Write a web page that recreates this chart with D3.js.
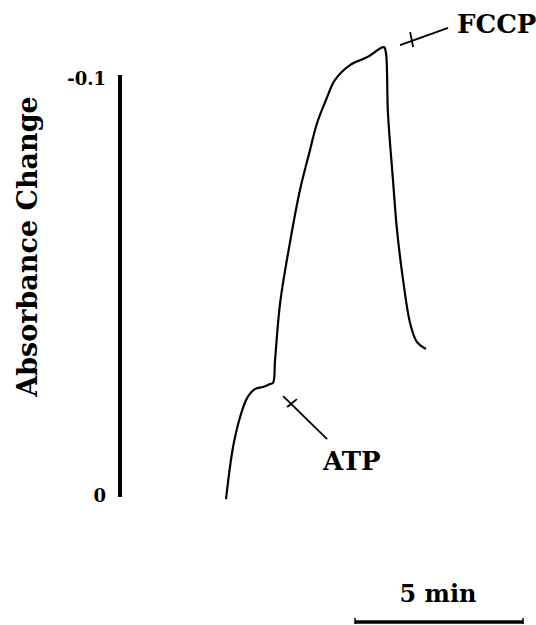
<!DOCTYPE html>
<html>
<head>
<meta charset="utf-8">
<script src="https://cdn.jsdelivr.net/npm/d3@7"></script>
<style>
  body { margin: 0; background: #fff; }
  svg text { font-family: "DejaVu Serif", serif; font-weight: bold; fill: #000; }
</style>
</head>
<body>
<div id="chart"></div>
<script>
// trace: time (min) and absorbance change
const times = [0, 0.21, 0.42, 0.63, 0.86, 1.10, 1.31, 1.40, 1.46, 1.61, 1.90, 2.20, 2.50, 2.71, 3.01, 3.24, 3.69, 4.20, 4.70, 4.76, 4.82, 4.97, 5.09, 5.27, 5.48, 5.68, 5.95];
const absorb = [0.001, -0.0115, -0.0187, -0.0233, -0.0254, -0.0259, -0.0266, -0.0269, -0.0324, -0.046, -0.0604, -0.0731, -0.0827, -0.0892, -0.0954, -0.0995, -0.1031, -0.105, -0.1074, -0.106, -0.0916, -0.0755, -0.0635, -0.0516, -0.0412, -0.0367, -0.035];

const yTicks = [0, -0.1];
const yTickLabels = ['0', '-0.1'];

// additions: pointer line [t, A] pairs and the tick mark on it
const atpLine = [[1.70, -0.0237], [3.01, -0.0134]];
const atpTick = [[1.82, -0.0211], [2.11, -0.0230]];
const fccpLine = [[5.18, -0.1079], [6.61, -0.1120]];
const fccpTick = [[5.48, -0.1110], [5.57, -0.1074]];

const scaleBarStart = 3.84;
const scaleBarMinutes = 5;

const width = 536, height = 625;

const svg = d3.select('#chart').append('svg')
    .attr('width', width)
    .attr('height', height);

const x = d3.scaleLinear().domain([0, 1]).range([226, 259.6]);
const y = d3.scaleLinear().domain([0, -0.1]).range([495, 78]);

const line = d3.line().x(d => x(d[0])).y(d => y(d[1]));
const smooth = d3.line().x(d => x(d[0])).y(d => y(d[1])).curve(d3.curveCatmullRom.alpha(0.5));

// y axis
const yAxis = d3.axisLeft(y)
    .tickValues(yTicks)
    .tickFormat((d, i) => yTickLabels[i])
    .tickSizeInner(0)
    .tickSizeOuter(0)
    .tickPadding(14);

const gy = svg.append('g')
    .attr('transform', 'translate(120,0)')
    .call(yAxis);
gy.attr('font-size', null).attr('font-family', null);
gy.select('.domain')
    .attr('d', `M0,${y(0) + 2}V${y(-0.1) - 3}`)
    .attr('stroke', '#000')
    .attr('stroke-width', 4);
gy.selectAll('.tick text')
    .style('font-size', '18px')
    .attr('dy', '0.38em');

svg.append('text')
    .attr('transform', `translate(37,${y(-0.05) - 40}) rotate(-90)`)
    .attr('text-anchor', 'middle')
    .style('font-size', '27px')
    .text('Absorbance Change');

// trace
svg.append('path')
    .datum(times.map((t, i) => [t, absorb[i]]))
    .attr('d', smooth)
    .attr('fill', 'none')
    .attr('stroke', '#000')
    .attr('stroke-width', 2.2);

// annotations
[atpLine, atpTick, fccpLine, fccpTick].forEach(seg => {
    svg.append('path')
        .datum(seg)
        .attr('d', line)
        .attr('stroke', '#000')
        .attr('stroke-width', 1.8);
});

svg.append('text')
    .attr('x', 323)
    .attr('y', 470)
    .style('font-size', '26px')
    .text('ATP');

svg.append('text')
    .attr('x', 457)
    .attr('y', 33)
    .style('font-size', '26px')
    .text('FCCP');

// 5 min scale bar
const barY = 622;
svg.append('line')
    .attr('x1', x(scaleBarStart))
    .attr('x2', x(scaleBarStart + scaleBarMinutes))
    .attr('y1', barY)
    .attr('y2', barY)
    .attr('stroke', '#000')
    .attr('stroke-width', 3.5);
[scaleBarStart, scaleBarStart + scaleBarMinutes].forEach(t => {
    svg.append('line')
        .attr('x1', x(t)).attr('x2', x(t))
        .attr('y1', barY - 4).attr('y2', barY + 2)
        .attr('stroke', '#000')
        .attr('stroke-width', 1.5);
});

svg.append('text')
    .attr('x', x(scaleBarStart + scaleBarMinutes / 2) - 1)
    .attr('y', 602)
    .attr('text-anchor', 'middle')
    .style('font-size', '24px')
    .text('5 min');
</script>
</body>
</html>
